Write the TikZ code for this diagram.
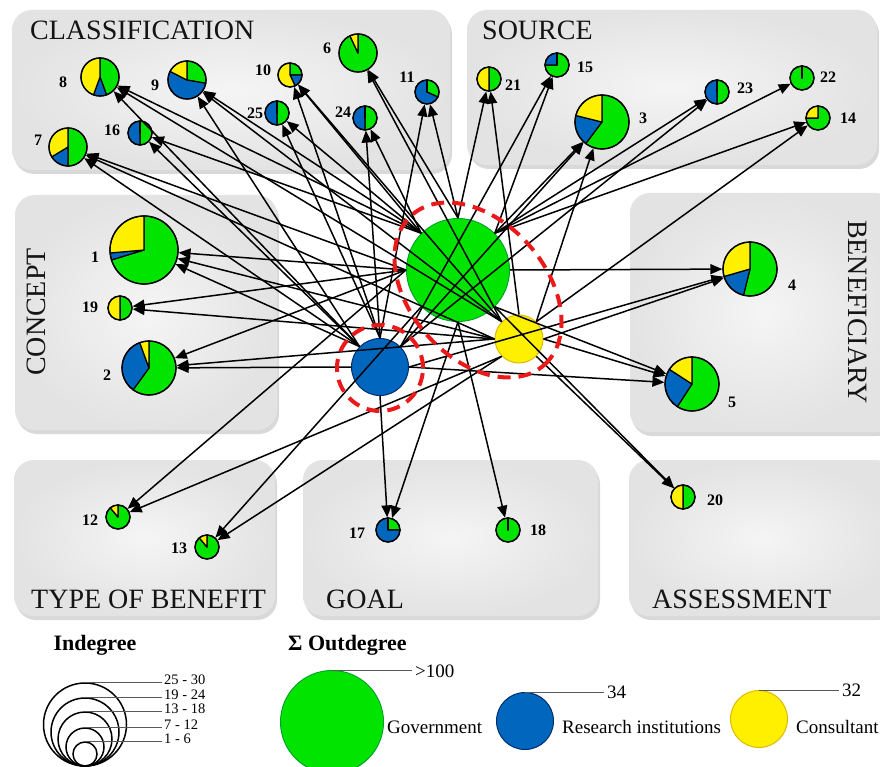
\documentclass[tikz,border=0pt]{standalone}
\usepackage{fontspec}
\setmainfont{Liberation Serif}
\usetikzlibrary{arrows.meta,shapes.geometric,shadows}

\definecolor{govgreen}{RGB}{0,228,0}
\definecolor{govedge}{RGB}{0,165,40}
\definecolor{resblue}{RGB}{0,102,190}
\definecolor{resedge}{RGB}{0,45,110}
\definecolor{conyellow}{RGB}{255,240,0}
\definecolor{conedge}{RGB}{225,185,0}
\definecolor{ringred}{RGB}{235,25,25}

\tikzset{
  panel/.style={rounded corners=20pt, inner color=black!4, outer color=black!11,
    drop shadow={shadow xshift=2pt, shadow yshift=-4pt, opacity=0.3}},
  title/.style={font=\fontsize{28}{30}\selectfont, text=black!92, inner sep=0},
  num/.style={font=\fontsize{16}{17}\selectfont\bfseries, inner sep=0},
  pieline/.style={draw=black, line width=1.2pt, line join=round},
  pienode/.style={circle, draw=black, line width=1.3pt, inner sep=0},
  src/.style={circle, line width=1pt, inner sep=0},
  edge/.style={line width=1.5pt, -{Triangle[length=12pt,width=10pt]}},
  ring/.style={draw=ringred, line width=4pt, dash pattern=on 13pt off 8pt, inner sep=0},
  legcirc/.style={circle, draw=black, line width=1.5pt, inner sep=0},
  legline/.style={draw=black!65, line width=0.9pt},
  legtext/.style={font=\fontsize{19}{20}\selectfont, inner sep=3pt},
  legsmall/.style={font=\fontsize{14.5}{15}\selectfont, inner sep=2pt},
  leghead/.style={font=\fontsize{22}{24}\selectfont\bfseries, inner sep=0}
}

% pie: name, centre, radius, end of green, end of blue (clockwise from 12 o'clock)
\newcommand{\piechart}[5]{%
  \filldraw[pieline, fill=govgreen] (#2) -- ++(90:#3pt)
    arc[start angle=90, end angle={90-#4}, radius=#3pt] -- cycle;
  \filldraw[pieline, fill=resblue] (#2) -- ++({90-#4}:#3pt)
    arc[start angle={90-#4}, end angle={90-#5}, radius=#3pt] -- cycle;
  \filldraw[pieline, fill=conyellow] (#2) -- ++({90-#5}:#3pt)
    arc[start angle={90-#5}, end angle=-270, radius=#3pt] -- cycle;
  \node[pienode, minimum size={2*#3pt}] (#1) at (#2) {};
}

\begin{document}
\begin{tikzpicture}[x=1pt, y=-1pt]
  \useasboundingbox (0,0) rectangle (880,767);

  % category boxes
  \path[panel] (12,10) rectangle (450,170);
  \path[panel] (467,10) rectangle (877,165);
  \path[panel] (15,195) rectangle (277,430);
  \path[panel] (630,193) rectangle (895,432);
  \path[panel] (14,460) rectangle (275,616);
  \path[panel] (303,460) rectangle (598,616);
  \path[panel] (629,460) rectangle (895,616);

  \node[title, anchor=base west] (tClass) at (30,40) {CLASSIFICATION};
  \node[title, anchor=base west] (tSource) at (482,40) {SOURCE};
  \node[title, rotate=90] (tConcept) at (36,312) {CONCEPT};
  \node[title, rotate=-90] (tBenef) at (858,312) {BENEFICIARY};
  \node[title, anchor=base west] (tType) at (31,608) {TYPE OF BENEFIT};
  \node[title, anchor=base west] (tGoal) at (326,608) {GOAL};
  \node[title, anchor=base west] (tAssess) at (652,608) {ASSESSMENT};

  % pies
  \piechart{n1}{144,250}{34}{253}{265}
  \piechart{n2}{149,368}{27}{216}{340}
  \piechart{n3}{602,122}{27}{217}{284}
  \piechart{n4}{750,269}{27}{194}{254}
  \piechart{n5}{692,384}{27}{213}{303}
  \piechart{n6}{358,53}{19}{335}{335}
  \piechart{n7}{68,147}{19}{180}{239}
  \piechart{n8}{100,77}{19}{160}{200}
  \piechart{n9}{187,80}{19}{100}{297}
  \piechart{n10}{290,75}{12}{90}{155}
  \piechart{n11}{427,92}{12}{115}{360}
  \piechart{n12}{118,517}{12}{320}{320}
  \piechart{n13}{207,547}{12}{320}{320}
  \piechart{n14}{818,118}{12}{270}{270}
  \piechart{n15}{557,65}{12}{270}{360}
  \piechart{n16}{140,133}{12}{180}{360}
  \piechart{n17}{388,530}{12}{90}{360}
  \piechart{n18}{508,530}{12}{360}{360}
  \piechart{n19}{120,308}{12}{180}{180}
  \piechart{n20}{683,497}{12}{180}{180}
  \piechart{n21}{489,79}{12}{180}{180}
  \piechart{n22}{802,78}{12}{360}{360}
  \piechart{n23}{717,92}{12}{180}{360}
  \piechart{n24}{365,118}{12}{180}{360}
  \piechart{n25}{277,113}{12}{180}{360}

  % actors
  \node[src, fill=govgreen, draw=govedge, minimum size=103pt] (gov) at (458,270) {};
  \node[src, fill=resblue, draw=resedge, minimum size=57pt] (res) at (380,367) {};
  \node[src, fill=conyellow, draw=conedge, minimum size=48pt] (con) at (519,339) {};

  % government
  \draw[edge] (gov.west) -- (n1);
  \draw[edge] (gov.west) -- (n2);
  \draw[edge] (gov.west) -- (n7);
  \draw[edge] (gov.west) -- (n19);
  \draw[edge] (gov.west) -- (n12);
  \draw[edge] (gov.north east) -- (n3);
  \draw[edge] (gov.north east) -- (n14);
  \draw[edge] (gov.north east) -- (n15);
  \draw[edge] (gov.north east) -- (n22);
  \draw[edge] (gov.north east) -- (n23);
  \draw[edge] (gov.east) -- (n4);
  \draw[edge] (gov.south east) -- (n5);
  \draw[edge] (gov.south east) -- (n20);
  \draw[edge] (gov.north) -- (n6);
  \draw[edge] (gov.north) -- (n11);
  \draw[edge] (gov.north) -- (n21);
  \draw[edge] (gov.north west) -- (n8);
  \draw[edge] (gov.north west) -- (n9);
  \draw[edge] (gov.north west) -- (n10);
  \draw[edge] (gov.north west) -- (n16);
  \draw[edge] (gov.north west) -- (n24);
  \draw[edge] (gov.north west) -- (n25);
  \draw[edge] (gov.south west) -- (n13);
  \draw[edge] (gov.south) -- (n17);
  \draw[edge] (gov.south) -- (n18);

  % research institutions
  \draw[edge] (res.north west) -- (n1);
  \draw[edge] (res.north west) -- (n7);
  \draw[edge] (res.north west) -- (n8);
  \draw[edge] (res.north west) -- (n9);
  \draw[edge] (res.north west) -- (n16);
  \draw[edge] (res.west) -- (n2);
  \draw[edge] (res.north east) -- (n3);
  \draw[edge] (res.north east) -- (n15);
  \draw[edge] (res.north east) -- (n23);
  \draw[edge] (res.east) -- (n4);
  \draw[edge] (res.east) -- (n5);
  \draw[edge] (res.north) -- (n10);
  \draw[edge] (res.north) -- (n11);
  \draw[edge] (res.north) -- (n24);
  \draw[edge] (res.north) -- (n25);
  \draw[edge] (res.south) -- (n17);

  % consultant
  \draw[edge] (con.west) -- (n1);
  \draw[edge] (con.west) -- (n2);
  \draw[edge] (con.west) -- (n7);
  \draw[edge] (con.west) -- (n19);
  \draw[edge] (con.north east) -- (n3);
  \draw[edge] (con.north east) -- (n14);
  \draw[edge] (con.east) -- (n4);
  \draw[edge] (con.east) -- (n5);
  \draw[edge] (con.north west) -- (n6);
  \draw[edge] (con.north west) -- (n8);
  \draw[edge] (con.north west) -- (n9);
  \draw[edge] (con.north west) -- (n10);
  \draw[edge] (con.south west) -- (n12);
  \draw[edge] (con.south west) -- (n13);
  \draw[edge] (con.south east) -- (n20);
  \draw[edge] (con.north) -- (n21);

  % groups
  \node[ring, ellipse, minimum width=200pt, minimum height=136pt, rotate=-48.6] (ring1) at (478,290) {};
  \node[ring, circle, minimum size=86pt] (ring2) at (380,368) {};

  % numbers
  \node[num] (l1) at (95,257) {1};
  \node[num] (l2) at (107,375) {2};
  \node[num] (l3) at (643,118) {3};
  \node[num] (l4) at (792,285) {4};
  \node[num] (l5) at (732,402) {5};
  \node[num] (l6) at (327,48) {6};
  \node[num] (l7) at (38,140) {7};
  \node[num] (l8) at (63,82) {8};
  \node[num] (l9) at (155,85) {9};
  \node[num] (l10) at (263,70) {10};
  \node[num] (l11) at (407,77) {11};
  \node[num] (l12) at (90,520) {12};
  \node[num] (l13) at (179,548) {13};
  \node[num] (l14) at (848,118) {14};
  \node[num] (l15) at (585,67) {15};
  \node[num] (l16) at (112,130) {16};
  \node[num] (l17) at (357,533) {17};
  \node[num] (l18) at (538,530) {18};
  \node[num] (l19) at (90,307) {19};
  \node[num] (l20) at (715,500) {20};
  \node[num] (l21) at (513,85) {21};
  \node[num] (l22) at (828,77) {22};
  \node[num] (l23) at (745,88) {23};
  \node[num] (l24) at (343,112) {24};
  \node[num] (l25) at (255,113) {25};

  % legend: indegree
  \node[leghead] (hIn) at (95,645) {Indegree};
  \node[legcirc, minimum size=83pt] (ind5) at (85,724.5) {};
  \node[legcirc, minimum size=68pt] (ind4) at (85,732) {};
  \node[legcirc, minimum size=54pt] (ind3) at (85,739) {};
  \node[legcirc, minimum size=38pt] (ind2) at (85,747) {};
  \node[legcirc, minimum size=24pt] (ind1) at (85,754) {};
  \node[legsmall, anchor=west] (v5) at (162,680) {25 - 30};
  \node[legsmall, anchor=west] (v4) at (162,695) {19 - 24};
  \node[legsmall, anchor=west] (v3) at (162,709) {13 - 18};
  \node[legsmall, anchor=west] (v2) at (162,725) {7 - 12};
  \node[legsmall, anchor=west] (v1) at (162,739) {1 - 6};
  \draw[legline] (ind5.north) -- (ind5.north -| v5.west);
  \draw[legline] (ind4.north) -- (ind4.north -| v4.west);
  \draw[legline] (ind3.north) -- (ind3.north -| v3.west);
  \draw[legline] (ind2.north) -- (ind2.north -| v2.west);
  \draw[legline] (ind1.north) -- (ind1.north -| v1.west);

  % legend: outdegree
  \node[leghead, anchor=west] (hOut) at (288,645) {Σ Outdegree};
  \node[src, fill=govgreen, draw=govedge, minimum size=103pt] (lgov) at (332,722) {};
  \node[src, fill=resblue, draw=resedge, minimum size=57pt] (lres) at (525,721) {};
  \node[src, fill=conyellow, draw=conedge, minimum size=57pt] (lcon) at (759,719) {};
  \node[legtext, anchor=west] (vgov) at (412,671) {\textgreater100};
  \node[legtext, anchor=west] (vres) at (604,692) {34};
  \node[legtext, anchor=west] (vcon) at (839,690) {32};
  \draw[legline] (lgov.north) -- (lgov.north -| vgov.west);
  \draw[legline] (lres.north) -- (lres.north -| vres.west);
  \draw[legline] (lcon.north) -- (lcon.north -| vcon.west);
  \node[legtext, anchor=west] (ngov) at (384,727) {Government};
  \node[legtext, anchor=west] (nres) at (559,727) {Research institutions};
  \node[legtext, anchor=west] (ncon) at (793,727) {Consultant};
\end{tikzpicture}
\end{document}
